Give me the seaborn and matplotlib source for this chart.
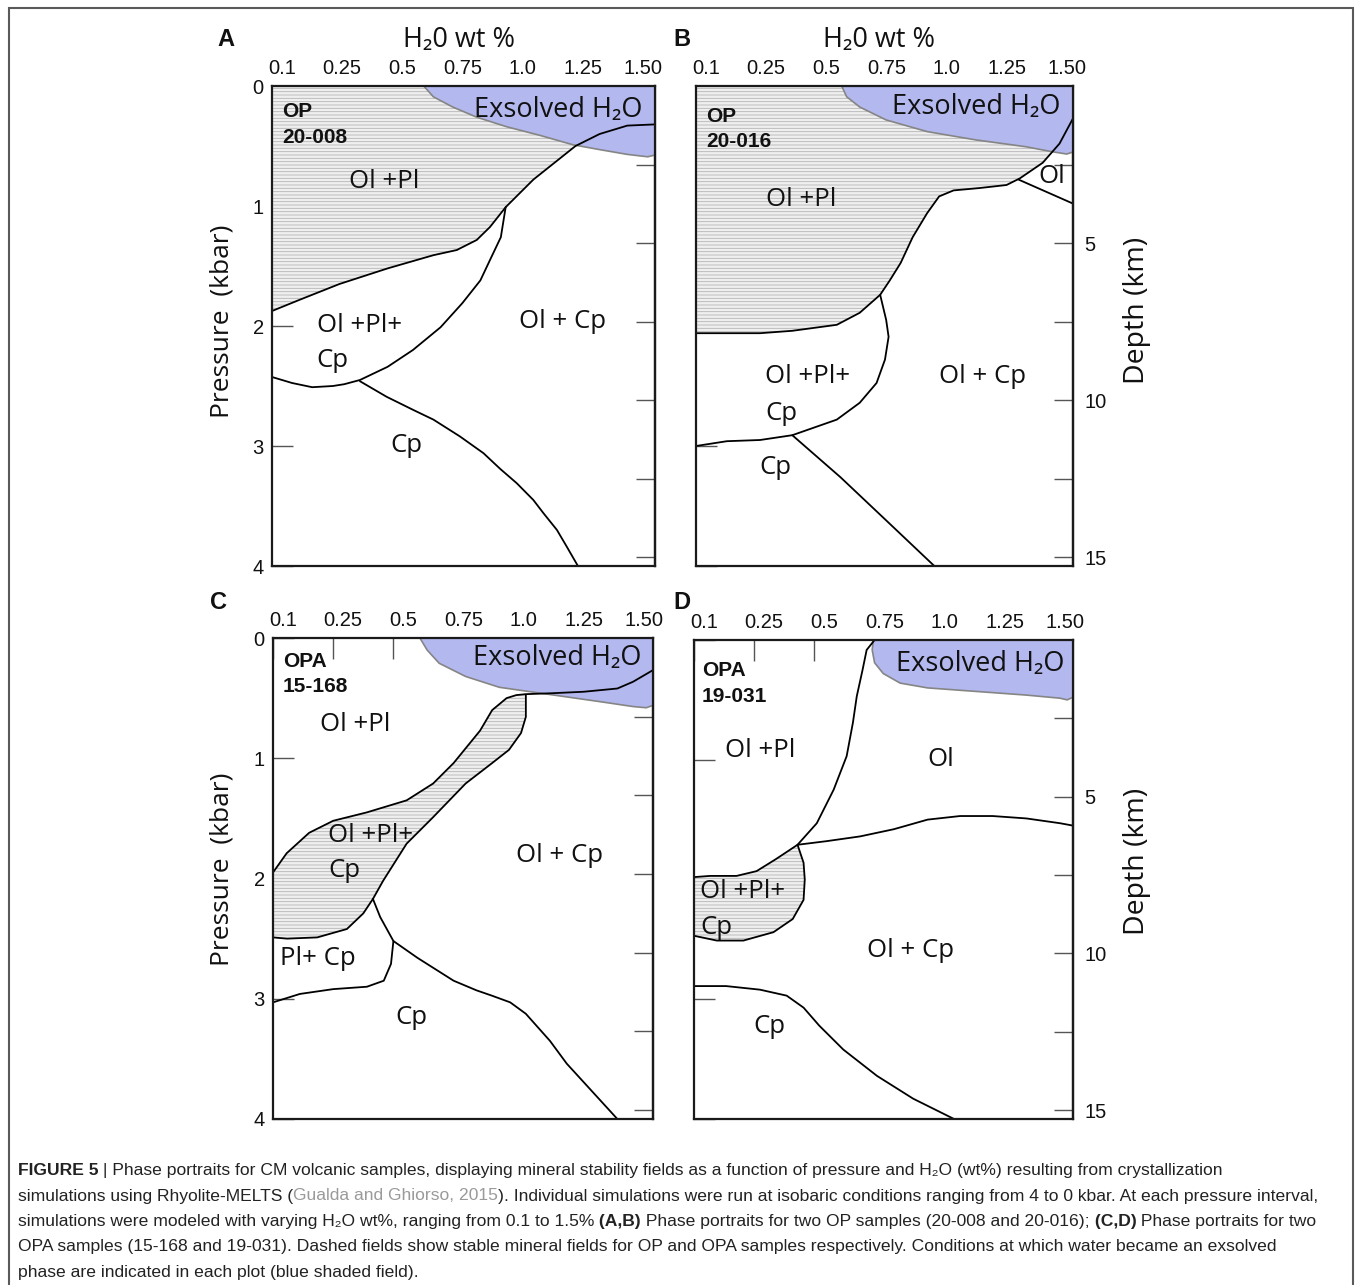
import numpy as np
import matplotlib.pyplot as plt
import seaborn as sns
from matplotlib import font_manager
from matplotlib.patches import Rectangle
from matplotlib.transforms import ScaledTranslation

# axis ticks
h2o_ticks = [0.1, 0.25, 0.5, 0.75, 1.0, 1.25, 1.50]
h2o_labels = ['0.1', '0.25', '0.5', '0.75', '1.0', '1.25', '1.50']
p_ticks = [0, 1, 2, 3, 4]
depth_ticks = [2.5, 5, 7.5, 10, 12.5, 15]
depth_labels = ['', '5', '', '10', '', '15']
km_per_kbar = 3.82

# the H2O axis of the figure is not linear: the listed ticks are equally spaced
scale_wt = [0.0, 0.1, 0.25, 2.0]
scale_pos = [-2 / 3, 0.0, 1.0, 8.0]

# ---- panel A : OP 20-008 ----
a_exsolved_wt = [0.63, 0.67, 0.75, 0.85, 0.975, 1.11, 1.25, 1.36, 1.475, 1.56, 1.59]
a_exsolved_p = [0.0, 0.09, 0.175, 0.26, 0.34, 0.41, 0.49, 0.53, 0.57, 0.59, 0.575]
a_olpl_wt = [0.1, 0.17, 0.28, 0.48, 0.67, 0.767, 0.85, 0.905, 0.97, 1.085, 1.26, 1.36, 1.475, 1.59]
a_olpl_p = [1.875, 1.78, 1.65, 1.52, 1.41, 1.367, 1.283, 1.175, 1.01, 0.78, 0.5, 0.4, 0.33, 0.32]
a_loop_wt = [0.97, 0.95, 0.905, 0.865, 0.79, 0.70, 0.585, 0.48, 0.365, 0.30, 0.253, 0.20, 0.15, 0.1]
a_loop_p = [1.01, 1.26, 1.45, 1.62, 1.81, 2.01, 2.2, 2.34, 2.45, 2.485, 2.5, 2.51, 2.475, 2.425]
a_cp_wt = [0.365, 0.476, 0.587, 0.67, 0.78, 0.878, 0.947, 1.016, 1.085, 1.127, 1.183, 1.224, 1.27]
a_cp_p = [2.46, 2.59, 2.70, 2.78, 2.92, 3.06, 3.19, 3.31, 3.45, 3.56, 3.70, 3.84, 4.0]

# ---- panel B : OP 20-016 ----
b_exsolved_wt = [0.605, 0.626, 0.68, 0.79, 0.96, 1.165, 1.37, 1.48, 1.54, 1.566]
b_exsolved_p = [0.0, 0.09, 0.175, 0.283, 0.38, 0.45, 0.506, 0.548, 0.567, 0.55]
b_olpl_wt = [0.1, 0.177, 0.266, 0.40, 0.585, 0.68, 0.765, 0.805, 0.85, 0.90, 0.96, 1.01,
             1.07, 1.18, 1.29, 1.345, 1.44, 1.51, 1.566]
b_olpl_p = [2.06, 2.06, 2.06, 2.04, 1.99, 1.89, 1.74, 1.62, 1.475, 1.26, 1.06, 0.92,
            0.87, 0.85, 0.825, 0.77, 0.64, 0.48, 0.27]
b_loop_wt = [0.765, 0.79, 0.80, 0.785, 0.75, 0.68, 0.585, 0.40, 0.266, 0.177, 0.1]
b_loop_p = [1.74, 1.95, 2.09, 2.28, 2.475, 2.64, 2.78, 2.91, 2.95, 2.96, 3.0]
b_cp_wt = [0.40, 0.60, 0.79, 0.99]
b_cp_p = [2.91, 3.26, 3.62, 4.0]
b_ol_wt = [1.34, 1.566]
b_ol_p = [0.78, 0.98]

# ---- panel C : OPA 15-168 ----
c_exsolved_wt = [0.61, 0.64, 0.69, 0.80, 0.94, 1.08, 1.22, 1.36, 1.495, 1.55, 1.578]
c_exsolved_p = [0.0, 0.1, 0.21, 0.32, 0.41, 0.45, 0.49, 0.53, 0.57, 0.58, 0.56]
c_olpl_wt = [1.578, 1.495, 1.43, 1.29, 1.15, 1.05, 1.01, 0.97, 0.91, 0.86, 0.805, 0.75,
             0.665, 0.555, 0.39, 0.25, 0.19, 0.134, 0.1]
c_olpl_p = [0.267, 0.364, 0.42, 0.447, 0.46, 0.467, 0.475, 0.50, 0.60, 0.77, 0.905, 1.04,
            1.21, 1.35, 1.45, 1.52, 1.62, 1.79, 1.95]
c_band_wt = [1.05, 1.05, 1.03, 0.98, 0.91, 0.80, 0.665, 0.555, 0.457, 0.415]
c_band_p = [0.475, 0.656, 0.79, 0.93, 1.04, 1.21, 1.49, 1.71, 2.02, 2.17]
c_low_wt = [0.415, 0.375, 0.307, 0.21, 0.135, 0.1]
c_low_p = [2.17, 2.29, 2.42, 2.49, 2.5, 2.49]
c_cp_wt = [0.415, 0.445, 0.50, 0.60, 0.75, 0.845, 0.91, 0.985, 1.05, 1.15, 1.22, 1.43]
c_cp_p = [2.17, 2.32, 2.52, 2.66, 2.85, 2.93, 2.975, 3.03, 3.125, 3.35, 3.54, 4.0]
c_plcp_wt = [0.50, 0.49, 0.46, 0.39, 0.25, 0.167, 0.1]
c_plcp_p = [2.52, 2.71, 2.85, 2.9, 2.92, 2.96, 3.03]

# ---- panel D : OPA 19-031 ----
d_exsolved_wt = [0.745, 0.74, 0.75, 0.786, 0.856, 0.97, 1.175, 1.38, 1.52, 1.55, 1.574]
d_exsolved_p = [0.0, 0.083, 0.19, 0.28, 0.36, 0.40, 0.43, 0.46, 0.486, 0.5, 0.478]
d_olpl_wt = [0.75, 0.717, 0.70, 0.676, 0.66, 0.634, 0.58, 0.51, 0.43, 0.34, 0.26, 0.206, 0.14, 0.1]
d_olpl_p = [0.0, 0.083, 0.25, 0.47, 0.69, 0.97, 1.25, 1.53, 1.71, 1.83, 1.93, 1.97, 1.97, 1.98]
d_ol_wt = [0.43, 0.55, 0.69, 0.83, 0.97, 1.105, 1.24, 1.38, 1.52, 1.574]
d_ol_p = [1.71, 1.68, 1.64, 1.58, 1.5, 1.47, 1.47, 1.49, 1.53, 1.55]
d_loop_wt = [0.43, 0.455, 0.46, 0.455, 0.41, 0.33, 0.223, 0.157, 0.1]
d_loop_p = [1.71, 1.86, 2.0, 2.17, 2.33, 2.44, 2.51, 2.51, 2.47]
d_cp_wt = [0.1, 0.18, 0.274, 0.385, 0.455, 0.52, 0.62, 0.76, 0.91, 1.08]
d_cp_p = [2.89, 2.89, 2.92, 2.97, 3.07, 3.22, 3.42, 3.64, 3.83, 4.0]

hatch_face = '#efefef'
hatch_line = '#b4b4b4'
blue = '#b3b8ef'
blue_edge = '#858585'


def wt_to_pos(w):
    return np.interp(w, scale_wt, scale_pos)


def pos_to_wt(x):
    return np.interp(x, scale_pos, scale_wt)


sns.set_theme(style='white')
plt.rcParams['font.family'] = ['Open Sans', 'DejaVu Sans']
plt.rcParams['hatch.linewidth'] = 0.6

W, H = 1355, 1285
fig = plt.figure(figsize=(W / 100, H / 100), dpi=100, facecolor='white')
renderer = fig.canvas.get_renderer()


def fx(px):
    return px / W


def fy(py):
    return 1 - py / H


def make_axes(rect):
    x0, y0, w, h = rect
    ax = fig.add_axes([fx(x0), fy(y0 + h), w / W, h / H])
    ax.set_xscale('function', functions=(wt_to_pos, pos_to_wt))
    return ax


def finish_axes(ax, xmax, left_labels, right_labels):
    ax.set_xlim(0.1, xmax)
    ax.set_ylim(4, 0)
    ax.set_xlabel('')
    ax.set_ylabel('')
    ax.xaxis.set_ticks_position('top')
    ax.yaxis.set_ticks_position('left')
    ax.set_xticks(h2o_ticks, h2o_labels)
    ax.set_yticks(p_ticks)
    ax.tick_params(direction='in', length=15, width=1, color='#555555',
                   labelsize=14.5, pad=6, labelcolor='#111111',
                   labelfontfamily='Liberation Sans')
    if not left_labels:
        ax.tick_params(labelleft=False)
    for lab in ax.get_xticklabels():
        lab.set_transform(lab.get_transform() + ScaledTranslation(0.1, 0, fig.dpi_scale_trans))
    for sp in ax.spines.values():
        sp.set_linewidth(1.6)
        sp.set_color('#1a1a1a')
        sp.set_zorder(5)
    sec = ax.secondary_yaxis('right', functions=(lambda p: p * km_per_kbar,
                                                  lambda d: d / km_per_kbar))
    sec.set_yticks(depth_ticks, depth_labels if right_labels else [''] * len(depth_ticks))
    sec.tick_params(direction='in', length=14, width=1, color='#555555',
                    labelsize=14.5, pad=8, labelcolor='#111111',
                    labelfontfamily='Liberation Sans')
    sec.spines['right'].set_linewidth(1.6)
    sec.spines['right'].set_color('#1a1a1a')


def hatched_poly(ax, xs, ys):
    ax.fill(xs, ys, facecolor=hatch_face, edgecolor=hatch_line, hatch='-----',
            linewidth=0, zorder=1)


def exsolved(ax, xs, ys, xmax):
    ax.fill(list(xs) + [xmax], list(ys) + [0], facecolor=blue, edgecolor=blue_edge,
            linewidth=1.2, zorder=2)


def boundary(ax, xs, ys):
    sns.lineplot(x=xs, y=ys, sort=False, estimator=None, color='black',
                 linewidth=1.3, ax=ax, zorder=3)


def region_labels(ax, labels):
    for text, xf, yf, ha, size in labels:
        ax.text(xf, 1 - yf, text, transform=ax.transAxes, ha=ha, va='center',
                fontsize=size, color='#111111', zorder=4)


reg = 18.5
big = 19.5

# ---- A ----
ax = make_axes((272, 86, 383, 480))
ax.fill_between(a_olpl_wt, 0, a_olpl_p, facecolor=hatch_face, edgecolor=hatch_line,
                hatch='-----', linewidth=0, zorder=1)
exsolved(ax, a_exsolved_wt, a_exsolved_p, 1.59)
for xs, ys in [(a_olpl_wt, a_olpl_p), (a_loop_wt, a_loop_p), (a_cp_wt, a_cp_p)]:
    boundary(ax, xs, ys)
region_labels(ax, [('Exsolved H₂O', 0.747, 0.05, 'center', big),
                   ('Ol +Pl', 0.292, 0.198, 'center', reg),
                   ('Ol +Pl+', 0.117, 0.498, 'left', reg),
                   ('Cp', 0.117, 0.571, 'left', reg),
                   ('Ol + Cp', 0.758, 0.491, 'center', reg),
                   ('Cp', 0.352, 0.748, 'center', reg)])
finish_axes(ax, 1.59, True, False)

# ---- B ----
ax = make_axes((696, 86, 377, 480))
ax.fill_between(b_olpl_wt, 0, b_olpl_p, facecolor=hatch_face, edgecolor=hatch_line,
                hatch='-----', linewidth=0, zorder=1)
exsolved(ax, b_exsolved_wt, b_exsolved_p, 1.566)
for xs, ys in [(b_olpl_wt, b_olpl_p), (b_loop_wt, b_loop_p), (b_cp_wt, b_cp_p),
               (b_ol_wt, b_ol_p)]:
    boundary(ax, xs, ys)
region_labels(ax, [('Exsolved H₂O', 0.744, 0.044, 'center', big),
                   ('Ol', 0.944, 0.189, 'center', reg),
                   ('Ol +Pl', 0.279, 0.2375, 'center', reg),
                   ('Ol +Pl+', 0.183, 0.606, 'left', reg),
                   ('Cp', 0.183, 0.683, 'left', reg),
                   ('Ol + Cp', 0.76, 0.606, 'center', reg),
                   ('Cp', 0.21, 0.794, 'center', reg)])
finish_axes(ax, 1.566, False, True)

# ---- C ----
ax = make_axes((273, 638, 380, 481))
hatched_poly(ax, c_olpl_wt[5:] + c_low_wt[::-1] + c_band_wt[::-1],
             c_olpl_p[5:] + c_low_p[::-1] + c_band_p[::-1])
exsolved(ax, c_exsolved_wt, c_exsolved_p, 1.578)
for xs, ys in [(c_olpl_wt, c_olpl_p), (c_band_wt, c_band_p), (c_low_wt, c_low_p),
               (c_cp_wt, c_cp_p), (c_plcp_wt, c_plcp_p)]:
    boundary(ax, xs, ys)
region_labels(ax, [('Exsolved H₂O', 0.747, 0.042, 'center', big),
                   ('Ol +Pl', 0.216, 0.179, 'center', reg),
                   ('Ol +Pl+', 0.146, 0.411, 'left', reg),
                   ('Cp', 0.146, 0.484, 'left', reg),
                   ('Ol + Cp', 0.755, 0.453, 'center', reg),
                   ('Pl+ Cp', 0.018, 0.667, 'left', reg),
                   ('Cp', 0.365, 0.79, 'center', reg)])
finish_axes(ax, 1.578, True, False)

# ---- D ----
ax = make_axes((694, 640, 379, 479))
hatched_poly(ax, d_olpl_wt[8:] + d_loop_wt[::-1], d_olpl_p[8:] + d_loop_p[::-1])
exsolved(ax, d_exsolved_wt, d_exsolved_p, 1.574)
for xs, ys in [(d_olpl_wt, d_olpl_p), (d_ol_wt, d_ol_p), (d_loop_wt, d_loop_p),
               (d_cp_wt, d_cp_p)]:
    boundary(ax, xs, ys)
region_labels(ax, [('Exsolved H₂O', 0.755, 0.05, 'center', big),
                   ('Ol +Pl', 0.174, 0.23, 'center', reg),
                   ('Ol', 0.652, 0.249, 'center', reg),
                   ('Ol +Pl+', 0.016, 0.525, 'left', reg),
                   ('Cp', 0.016, 0.60, 'left', reg),
                   ('Ol + Cp', 0.57, 0.649, 'center', reg),
                   ('Cp', 0.20, 0.807, 'center', reg)])
finish_axes(ax, 1.574, False, True)

# ---- figure texts ----
arial = ['Liberation Sans', 'DejaVu Sans']
for letter, px, py in [('A', 225.5, 39), ('B', 681.7, 39), ('C', 218, 602.5), ('D', 682, 602.5)]:
    fig.text(fx(px), fy(py), letter, ha='center', va='center', fontsize=17,
             fontweight='bold', family=arial, color='#111111')
for px in [459, 879]:
    fig.text(fx(px), fy(40), 'H₂0 wt %', ha='center', va='center', fontsize=19.5, color='#111111')
for py in [321, 869]:
    fig.text(fx(222), fy(py), 'Pressure  (kbar)', ha='center', va='center', rotation=90,
             fontsize=19, color='#111111')
for py in [310, 861]:
    fig.text(fx(1137), fy(py), 'Depth (km)', ha='center', va='center', rotation=90,
             fontsize=20.5, color='#111111')
for name, code, px, py1, py2 in [('OP', '20-008', 282, 117, 143),
                                 ('OP', '20-016', 706, 122, 146.7),
                                 ('OPA', '15-168', 282.7, 666.7, 691.7),
                                 ('OPA', '19-031', 701.7, 676, 701.7)]:
    fig.text(fx(px), fy(py1), name, ha='left', va='baseline', fontsize=15,
             fontweight='bold', family=arial, color='#111111')
    fig.text(fx(px), fy(py2), code, ha='left', va='baseline', fontsize=15,
             fontweight='bold', family=arial, color='#111111')

# frame round the whole figure (open at the bottom, as in the page crop)
fig.add_artist(Rectangle((fx(9), -0.02), fx(1353) - fx(9), fy(8) + 0.02,
                         transform=fig.transFigure, fill=False,
                         edgecolor='#5a5a5a', linewidth=1.5))

# ---- caption ----
names = {f.name for f in font_manager.fontManager.ttflist}
cap_family = ['Liberation Sans Narrow' if 'Liberation Sans Narrow' in names
              else 'Liberation Sans', 'DejaVu Sans']
caption = [
    [('FIGURE 5', 'bold'), (' | Phase portraits for CM volcanic samples, displaying mineral stability '
                            'fields as a function of pressure and H₂O (wt%) resulting from crystallization', 'normal')],
    [('simulations using Rhyolite-MELTS (', 'normal'), ('Gualda and Ghiorso, 2015', 'gray'),
     ('). Individual simulations were run at isobaric conditions ranging from 4 to 0 kbar. '
      'At each pressure interval,', 'normal')],
    [('simulations were modeled with varying H₂O wt%, ranging from 0.1 to 1.5%', 'normal'),
     (' (A,B)', 'bold'), (' Phase portraits for two OP samples (20-008 and 20-016);', 'normal'),
     (' (C,D)', 'bold'), (' Phase portraits for two', 'normal')],
    [('OPA samples (15-168 and 19-031). Dashed fields show stable mineral fields for OP and OPA '
      'samples respectively. Conditions at which water became an exsolved', 'normal')],
    [('phase are indicated in each plot (blue shaded field).', 'normal')],
]
probe = fig.text(0, 0, ''.join(s for s, _ in caption[1]), fontsize=10, family=cap_family)
cap_size = 10 * (1322 - 18) / probe.get_window_extent(renderer).width
probe.remove()

for line, py in zip(caption, [1175, 1200.5, 1226, 1251.5, 1277]):
    x = fx(18)
    for s, style in line:
        t = fig.text(x, fy(py), s, ha='left', va='baseline', fontsize=cap_size,
                     family=cap_family,
                     fontweight='bold' if style == 'bold' else 'normal',
                     color='#9a9a9a' if style == 'gray' else '#222222')
        x += t.get_window_extent(renderer).width / W

fig.savefig('out.png', dpi=100, facecolor='white')
